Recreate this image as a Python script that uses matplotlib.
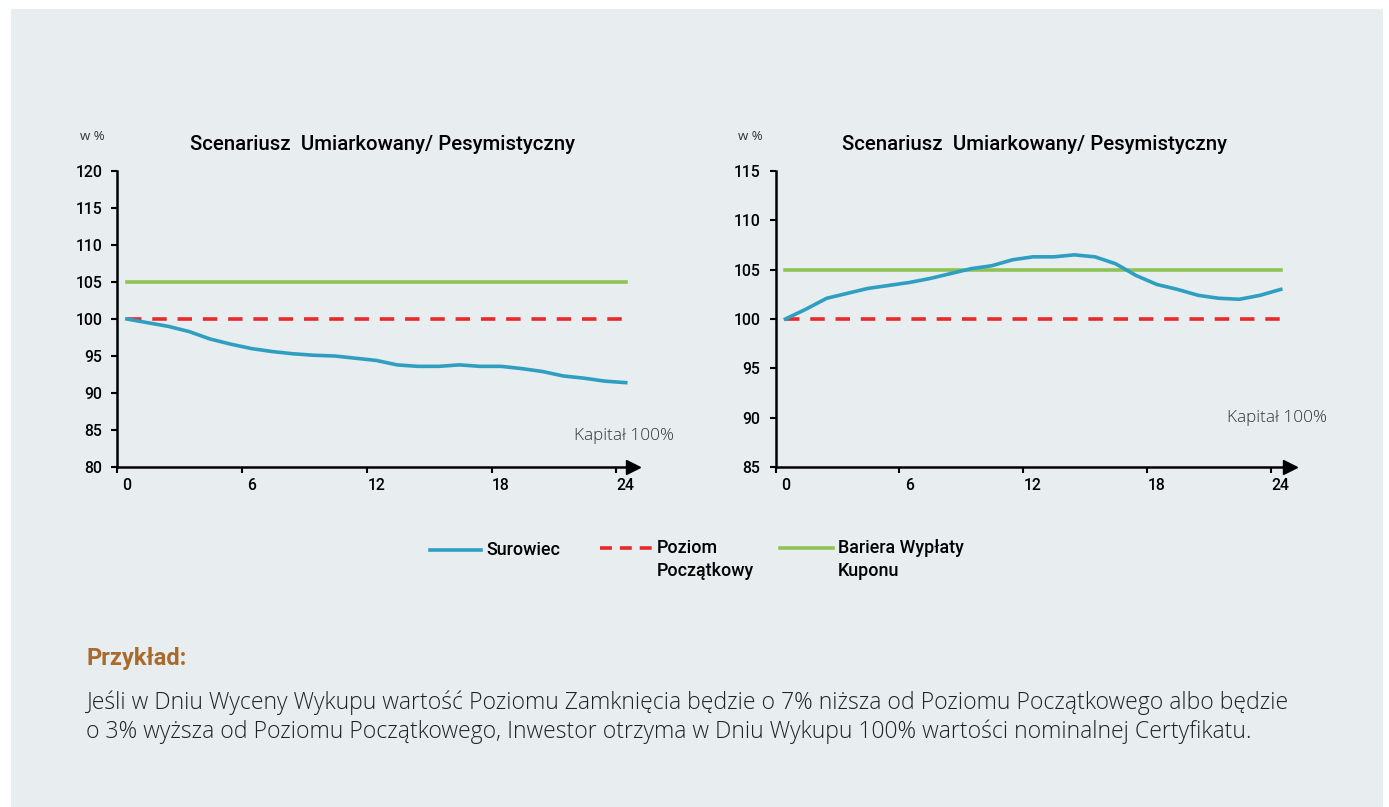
import numpy as np
import matplotlib
matplotlib.use("Agg")
import matplotlib.pyplot as plt
from matplotlib.lines import Line2D
from matplotlib.patches import Rectangle

W, H = 1389, 807

# months 0..24
months = list(range(25))

# left chart: moderate / pessimistic (falling)
left_surowiec = [100.0, 99.5, 99.0, 98.3, 97.3, 96.6, 96.0, 95.6, 95.3, 95.1, 95.0, 94.7,
                 94.4, 93.8, 93.6, 93.6, 93.8, 93.6, 93.6, 93.3, 92.9, 92.3, 92.0, 91.6, 91.4]
# right chart (rising then falling back)
right_surowiec = [100.0, 101.0, 102.1, 102.6, 103.1, 103.4, 103.7, 104.1, 104.6, 105.1, 105.4, 106.0,
                  106.3, 106.3, 106.5, 106.3, 105.6, 104.4, 103.5, 103.0, 102.4, 102.1, 102.0, 102.4, 103.0]
poziom_poczatkowy = 100
bariera_kuponu = 105

left_yticks = [80, 85, 90, 95, 100, 105, 110, 115, 120]
right_yticks = [85, 90, 95, 100, 105, 110, 115]
xticks = [0, 6, 12, 18, 24]

title = "Scenariusz  Umiarkowany/ Pesymistyczny"
przyklad = "Przykład:"
body1 = "Jeśli w Dniu Wyceny Wykupu wartość Poziomu Zamknięcia będzie o 7% niższa od Poziomu Początkowego albo będzie"
body2 = "o 3% wyższa od Poziomu Początkowego, Inwestor otrzyma w Dniu Wykupu 100% wartości nominalnej Certyfikatu."

BLUE = "#2f9fc1"
RED = "#e8292c"
GREEN = "#8fc255"
BG = "#e8edf0"

MAINFONT = ["Roboto", "DejaVu Sans"]
LIGHTFONT = ["Open Sans", "DejaVu Sans"]


def fx(x):
    return x / W


def fy(y):
    return 1 - y / H


fig = plt.figure(figsize=(W / 100, H / 100), dpi=100)
fig.patch.set_facecolor("white")
fig.add_artist(Rectangle((fx(11), fy(807)), fx(1383) - fx(11), fy(9) - fy(807),
                         transform=fig.transFigure, facecolor=BG, edgecolor="none", zorder=0))


def make_chart(left_px, right_px, xlo, xhi, ylo, yhi, yticks, data):
    ax = fig.add_axes([fx(left_px), fy(467), fx(right_px) - fx(left_px), fy(171) - fy(467)])
    ax.set_facecolor("none")
    ax.plot(months, data, color=BLUE, lw=2.6, solid_joinstyle="round", zorder=3)
    ax.plot([months[0], months[-1]], [poziom_poczatkowy] * 2, color=RED, lw=2.6,
            dashes=(4, 3), zorder=2)
    ax.plot([months[0], months[-1]], [bariera_kuponu] * 2, color=GREEN, lw=2.6, zorder=2)
    ax.set_xlim(xlo, xhi)
    ax.set_ylim(ylo, yhi)
    for s in ["top", "right"]:
        ax.spines[s].set_visible(False)
    for s in ["left", "bottom"]:
        ax.spines[s].set_linewidth(1.8)
        ax.spines[s].set_color("black")
    ax.set_yticks(yticks)
    ax.set_yticklabels([str(t) for t in yticks], fontsize=11.3, family=MAINFONT, fontweight="medium")
    # tick marks sit half a month before the labels (category axis)
    ax.set_xticks([t + xlo for t in xticks], minor=True)
    ax.set_xticks(xticks)
    ax.set_xticklabels([str(t) for t in xticks], fontsize=11.3, family=MAINFONT, fontweight="medium")
    ax.tick_params(axis="x", which="major", length=0, pad=8)
    ax.tick_params(axis="x", which="minor", length=4, width=1.5, direction="out")
    ax.tick_params(axis="y", length=4, width=1.5, pad=7)
    ax.plot([1], [0], marker=">", markersize=10, color="black", transform=ax.transAxes,
            clip_on=False, zorder=5)
    return ax


make_chart(117.5, 633, -0.45, 24.35, 80, 120, left_yticks, left_surowiec)
make_chart(775.5, 1290, -0.48, 24.45, 85, 115, right_yticks, right_surowiec)

for cx, wx in [(383, 80), (1034, 738)]:
    fig.text(fx(cx), fy(145), title, ha="center", va="center", fontsize=14.7,
             family=MAINFONT, fontweight="medium", color="black")
    fig.text(fx(wx), fy(136), "w %", ha="left", va="center", fontsize=9.5,
             family=LIGHTFONT, color="#333333")

fig.text(fx(674), fy(436), "Kapitał 100%", ha="right", va="center", fontsize=12.3,
         family=LIGHTFONT, color="#333333", fontweight="light")
fig.text(fx(1327), fy(418), "Kapitał 100%", ha="right", va="center", fontsize=12.3,
         family=LIGHTFONT, color="#333333", fontweight="light")

# legend
legend_font = dict(ha="left", va="center", fontsize=12.9, family=MAINFONT,
                   fontweight="medium", color="black")
fig.add_artist(Line2D([fx(430), fx(481)], [fy(550), fy(550)], color=BLUE, lw=2.6,
                      transform=fig.transFigure))
fig.text(fx(486), fy(550), "Surowiec", **legend_font)
fig.add_artist(Line2D([fx(600), fx(652)], [fy(548), fy(548)], color=RED, lw=2.6,
                      dashes=(3.3, 2.2), transform=fig.transFigure))
fig.text(fx(657), fy(548), "Poziom", **legend_font)
fig.text(fx(657), fy(571), "Początkowy", **legend_font)
fig.add_artist(Line2D([fx(780), fx(833)], [fy(548), fy(548)], color=GREEN, lw=2.6,
                      transform=fig.transFigure))
fig.text(fx(838), fy(548), "Bariera Wypłaty", **legend_font)
fig.text(fx(838), fy(571), "Kuponu", **legend_font)

fig.text(fx(86), fy(658), przyklad, ha="left", va="center", fontsize=17,
         family=MAINFONT, fontweight="bold", color="#a96a2b")
fig.text(fx(86), fy(703), body1, ha="left", va="center", fontsize=16.6,
         family=LIGHTFONT, fontweight="light", color="#222222")
fig.text(fx(86), fy(732), body2, ha="left", va="center", fontsize=16.6,
         family=LIGHTFONT, fontweight="light", color="#222222")

fig.savefig("out.png", dpi=100, facecolor=fig.get_facecolor())
